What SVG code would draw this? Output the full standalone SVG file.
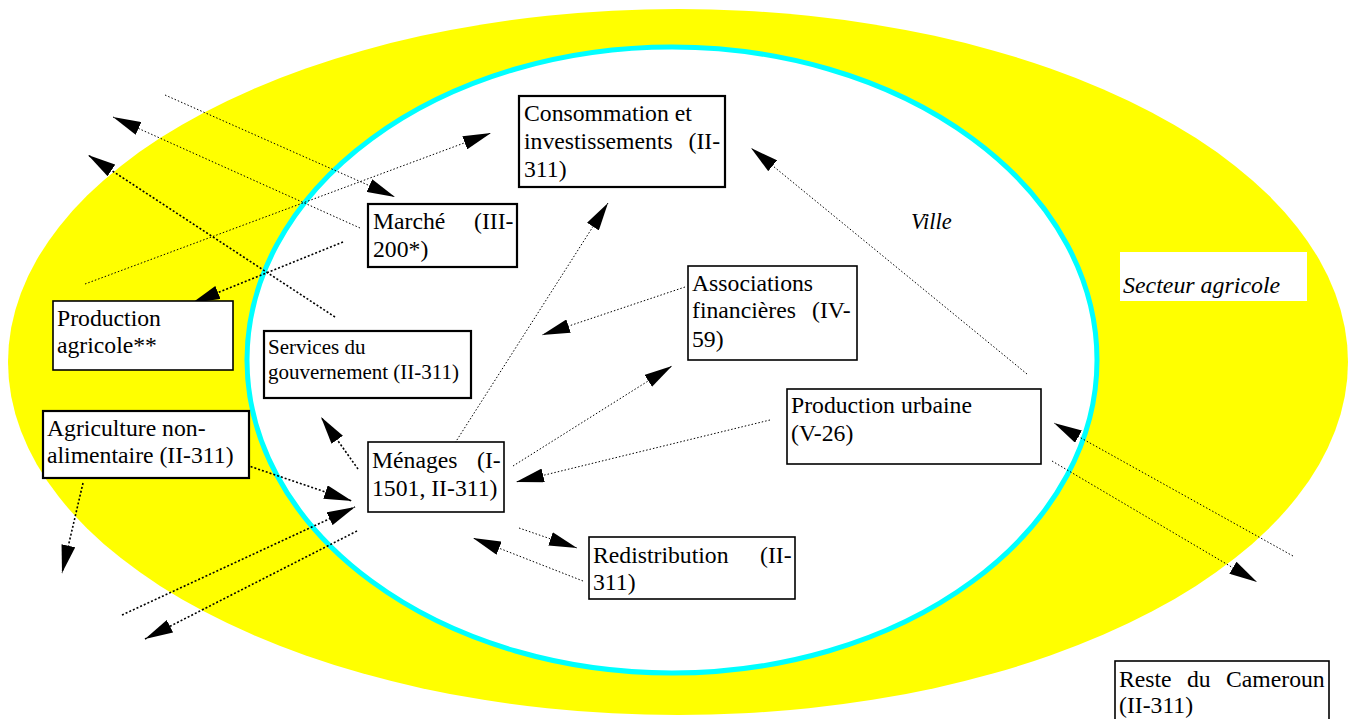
<svg xmlns="http://www.w3.org/2000/svg" width="1354" height="719" viewBox="0 0 1354 719">
<style>
.t{font-family:"Liberation Serif","Times New Roman",serif;font-size:23.7px;fill:#000}
.s{font-size:21px}
.i{font-style:italic}
.box{fill:#fff;stroke:#000;stroke-width:1.6}
.bx{fill:#fff;stroke:#000;stroke-width:2.2}
.c{fill:none;stroke:#000;stroke-width:1;stroke-dasharray:1.5 2}
.h{fill:none;stroke:#000;stroke-width:1.6;stroke-dasharray:2 2}
</style>
<defs>
<marker id="ah" viewBox="0 0 28 14" refX="28" refY="7" markerWidth="28" markerHeight="14" markerUnits="userSpaceOnUse" orient="auto"><path d="M0,0 L28,7 L0,14 z" fill="#000"/></marker>
</defs>
<rect width="1354" height="719" fill="#fff"/>
<g id="regions">
<ellipse cx="678" cy="362" rx="670" ry="353" fill="#ffff00"/>
<ellipse cx="672" cy="360" rx="425" ry="313" fill="#fff" stroke="#00ffff" stroke-width="5"/>
<rect x="1120" y="252" width="187" height="49" fill="#fff"/>
<text class="t i" x="1123" y="293" style="font-size:23.9px">Secteur agricole</text>
<text class="t i" x="911" y="229" style="font-size:22.5px">Ville</text>
</g>
<g id="connectors" marker-end="url(#ah)">
<line class="c" x1="165" y1="95" x2="395" y2="197"/>
<line class="c" x1="360" y1="228" x2="113" y2="117"/>
<line class="h" x1="335" y1="317" x2="88" y2="155"/>
<line class="c" x1="85" y1="284" x2="491" y2="133"/>
<line class="h" x1="343" y1="242" x2="192" y2="303"/>
<line class="h" x1="358" y1="469" x2="321" y2="417"/>
<line class="h" x1="243" y1="464" x2="352" y2="501"/>
<line class="h" x1="122" y1="615" x2="355" y2="507"/>
<line class="h" x1="357" y1="531" x2="145" y2="639"/>
<line class="h" x1="83" y1="483" x2="62" y2="573"/>
<line class="c" x1="455" y1="443" x2="608" y2="203"/>
<line class="c" x1="685" y1="287" x2="542" y2="335"/>
<line class="c" x1="513" y1="466" x2="672" y2="366"/>
<line class="c" x1="770" y1="420" x2="516" y2="482"/>
<line class="c" x1="519" y1="528" x2="577" y2="548"/>
<line class="c" x1="583" y1="581" x2="473" y2="538"/>
<line class="c" x1="1027" y1="374" x2="751" y2="148"/>
<line class="c" x1="1293" y1="556" x2="1054" y2="423"/>
<line class="c" x1="1052" y1="461" x2="1257" y2="582"/>
</g>
<g id="consommation">
<rect class="bx" x="519" y="96" width="206" height="91"/>
<text class="t" x="524" y="121">Consommation et</text>
<text class="t" y="149"><tspan x="524">investissements</tspan><tspan x="688.5">(II-</tspan></text>
<text class="t" x="524" y="177">311)</text>
</g>
<g id="marche">
<rect class="bx" x="368" y="204" width="149" height="63"/>
<text class="t" y="229"><tspan x="373">Marché</tspan><tspan x="474">(III-</tspan></text>
<text class="t" x="373" y="257">200*)</text>
</g>
<g id="production-agricole">
<rect class="box" x="53" y="301" width="180" height="69"/>
<text class="t" x="57" y="326">Production</text>
<text class="t" x="57" y="353">agricole**</text>
</g>
<g id="services">
<rect class="bx" x="264" y="331" width="207" height="67"/>
<text class="t s" x="268" y="354">Services du</text>
<text class="t s" x="268" y="379">gouvernement (II-311)</text>
</g>
<g id="agriculture">
<rect class="bx" x="43" y="411" width="206" height="67"/>
<text class="t" x="47" y="436">Agriculture non-</text>
<text class="t" x="47" y="463">alimentaire (II-311)</text>
</g>
<g id="menages">
<rect class="box" x="368" y="442" width="136" height="70"/>
<text class="t" y="468"><tspan x="372">Ménages</tspan><tspan x="477">(I-</tspan></text>
<text class="t" x="372" y="496">1501, II-311)</text>
</g>
<g id="associations">
<rect class="box" x="688" y="266" width="169" height="94"/>
<text class="t" x="692" y="291">Associations</text>
<text class="t" y="318"><tspan x="692">financières</tspan><tspan x="812">(IV-</tspan></text>
<text class="t" x="692" y="347">59)</text>
</g>
<g id="production-urbaine">
<rect class="box" x="787" y="389" width="254" height="75"/>
<text class="t" x="791" y="413">Production urbaine</text>
<text class="t" x="791" y="441">(V-26)</text>
</g>
<g id="redistribution">
<rect class="box" x="589" y="537" width="206" height="62"/>
<text class="t" y="563"><tspan x="593">Redistribution</tspan><tspan x="760">(II-</tspan></text>
<text class="t" x="593" y="590">311)</text>
</g>
<g id="reste">
<rect class="box" x="1115" y="661" width="214" height="70"/>
<text class="t" y="687"><tspan x="1119">Reste</tspan><tspan x="1187">du</tspan><tspan x="1226">Cameroun</tspan></text>
<text class="t" x="1119" y="713">(II-311)</text>
</g>
</svg>
